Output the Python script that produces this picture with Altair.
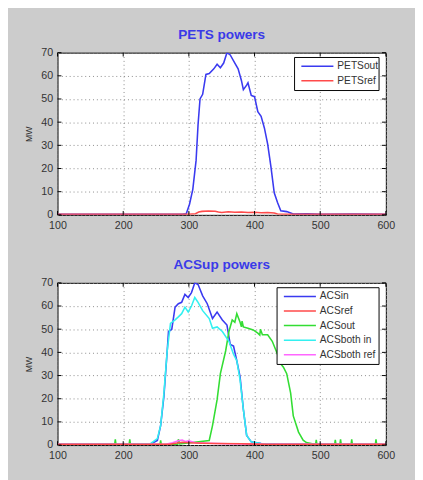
import altair as alt
import pandas as pd

# ---- PETS data ----
PETS_X = [100, 150, 200, 250, 290, 296, 301, 306, 311, 314, 317, 321, 326, 331, 338, 343, 348, 353, 358, 363,
          370, 375, 380, 383, 388, 390, 395, 400, 405, 410, 415, 420, 425, 430, 435, 440, 449, 459, 480, 500, 550, 600]
PETS_OUT = [0.2, 0.3, 0.2, 0.3, 0.3, 0.5, 4.6, 11, 23.5, 39, 50, 52, 60.6, 61, 63, 65, 63.5, 65.5, 70, 69,
            65.5, 63, 58, 54, 56, 57, 51.5, 51, 44.5, 42.5, 37.5, 30.5, 20.7, 9.5, 5.3, 1.8, 1.4, 0.4, 0.5, 0.3, 0.4, 0.2]
PETS_REF_X = [100, 200, 300, 310, 315, 320, 330, 340, 345, 350, 360, 370, 380, 390, 400, 410, 420, 430, 435, 450, 500, 600]
PETS_REF = [0.3, 0.3, 0.3, 0.5, 1.2, 1.5, 1.7, 1.6, 1.2, 1.0, 1.3, 1.1, 1.2, 1.0, 1.1, 0.9, 1.0, 0.8, 0.4, 0.3, 0.3, 0.3]

# ---- ACSup data ----
ACS_IN_X = [100, 200, 242, 252, 257, 262, 267, 269, 274, 279, 284, 289, 294, 299, 304, 309, 314, 321, 328, 336,
            343, 351, 358, 363, 368, 373, 378, 383, 388, 395, 410, 435, 500, 600]
ACS_IN = [0.3, 0.3, 0.5, 2, 8.4, 21, 40.6, 49, 50, 59.5, 61, 61.6, 65, 63.7, 65.8, 70, 69.3, 64.4, 61, 54.6,
          57.4, 54, 51.8, 43.4, 42.7, 36.4, 29.4, 15.4, 4.2, 1.4, 0.7, 0.3, 0.3, 0.2]
ACS_REF_X = [100, 270, 280, 290, 300, 320, 340, 380, 400, 420, 600]
ACS_REF = [0.3, 0.3, 0.8, 1.2, 1.0, 0.8, 0.7, 0.6, 0.4, 0.3, 0.3]
ACS_OUT_X = [100, 187, 188, 189, 209, 210, 211, 256, 257, 258, 283, 284, 286, 331, 336, 343, 348, 356, 361, 366,
             370, 373, 378, 380, 381, 383, 390, 398, 405, 408, 409, 412, 420, 427, 435, 440, 444, 449, 455, 459,
             467, 474, 479, 493, 494, 495, 522, 523, 524, 530, 531, 532, 547, 548, 549, 584, 585, 586, 600]
ACS_OUT = [0.2, 0.2, 2.5, 0.2, 0.2, 2.5, 0.2, 0.2, 2.0, 0.2, 0.3, 2.5, 0.5, 2, 8.4, 19.6, 30.8, 40.6, 49, 54,
           53, 56.7, 53, 51, 53.5, 51, 50.4, 49.7, 48.3, 47.5, 50, 47.6, 47.6, 44.8, 39.2, 35, 33.6, 30.8, 22.4, 12.6,
           5.6, 2.1, 1.1, 0.2, 2.2, 0.2, 0.2, 2.2, 0.2, 0.2, 2.5, 0.2, 0.2, 2.5, 0.2, 0.2, 2.5, 0.2, 0.2]
ACS_BIN_X = [100, 200, 242, 252, 257, 262, 267, 272, 279, 284, 289, 294, 299, 304, 309, 314, 321, 331, 336, 343,
             351, 361, 368, 373, 378, 383, 388, 395, 410, 435, 500, 600]
ACS_BIN = [0.3, 0.3, 0.7, 2.8, 8.4, 22.4, 40.6, 52.5, 54, 55.3, 56.7, 59.5, 57.4, 60, 63.7, 61.6, 58, 54.6, 50.4, 51,
           49, 44.8, 39.2, 36.4, 28, 15.4, 4.2, 1.4, 0.7, 0.3, 0.3, 0.2]
ACS_BREF_X = [100, 265, 275, 285, 290, 295, 300, 310, 330, 360, 400, 420, 600]
ACS_BREF = [0.3, 0.3, 1.0, 2.0, 2.2, 1.5, 1.8, 1.0, 0.8, 0.6, 0.4, 0.3, 0.3]

X_TICKS = [100, 200, 300, 400, 500, 600]
Y_TICKS = [0, 10, 20, 30, 40, 50, 60, 70]

PETS_NAMES = ["PETSout", "PETSref"]
PETS_COLORS = ["#3a3af0", "#ff4a4a"]
ACS_NAMES = ["ACSin", "ACSref", "ACSout", "ACSboth in", "ACSboth ref"]
ACS_COLORS = ["#3a3af0", "#ff4a4a", "#33dd33", "#33f0f0", "#ff66ff"]

FONT = "Liberation Sans"
W, H = 338, 167
TK = 4  # inward tick length
XSCALE = alt.Scale(domain=[100, 600], nice=False)
YSCALE = alt.Scale(domain=[0, 70], nice=False)
XAXIS = alt.Axis(values=X_TICKS, title=None, grid=True, ticks=False, labelPadding=5, labelFlush=False)
YAXIS = alt.Axis(values=Y_TICKS, title="MW", grid=True, ticks=False, labelPadding=5,
                 titlePadding=8, titleFontSize=9, titleFontWeight="normal")


def frame(xs, ys, name):
    return pd.DataFrame({"x": xs, "y": ys, "series": name})


def legend_layers(names, colors, box_w):
    # legend box in the top-right corner of the plot (styling, not data)
    x0 = W - 7 - box_w
    y0 = 5
    rows = len(names)
    box_h = rows * 15 + 4
    layers = [alt.Chart().mark_rect(fill="white", stroke="black", strokeWidth=1).encode(
        x=alt.value(x0), x2=alt.value(x0 + box_w), y=alt.value(y0), y2=alt.value(y0 + box_h))]
    for k, (n, c) in enumerate(zip(names, colors)):
        yy = y0 + 9 + 15 * k
        layers.append(alt.Chart().mark_rule(color=c, strokeWidth=1.5).encode(
            x=alt.value(x0 + 7), x2=alt.value(x0 + 40), y=alt.value(yy)))
        layers.append(alt.Chart().mark_text(align="left", baseline="middle", font=FONT, fontSize=10.5,
                                            color="#333333").encode(
            x=alt.value(x0 + 44), y=alt.value(yy), text=alt.value(n)))
    return layers


def tick_layers():
    xt = pd.DataFrame({"x": X_TICKS})
    yt = pd.DataFrame({"y": Y_TICKS})
    layers = []
    for a, b in ((0, TK), (H - TK, H)):
        layers.append(alt.Chart(xt).mark_rule(color="black", strokeWidth=1).encode(
            x=alt.X("x:Q", scale=XSCALE, axis=XAXIS), y=alt.value(a), y2=alt.value(b)))
    for a, b in ((0, TK), (W - TK, W)):
        layers.append(alt.Chart(yt).mark_rule(color="black", strokeWidth=1).encode(
            y=alt.Y("y:Q", scale=YSCALE, axis=YAXIS), x=alt.value(a), x2=alt.value(b)))
    return layers


def panel(series, names, colors, title, box_w):
    df = pd.concat([frame(xs, ys, n) for (n, xs, ys) in series], ignore_index=True)
    df["i"] = range(len(df))
    lines = alt.Chart(df).mark_line(strokeWidth=1.6, clip=True).encode(
        x=alt.X("x:Q", scale=XSCALE, axis=XAXIS),
        y=alt.Y("y:Q", scale=YSCALE, axis=YAXIS),
        color=alt.Color("series:N", scale=alt.Scale(domain=names, range=colors), legend=None),
        detail="series:N",
        order="i:Q",
    )
    return alt.layer(lines, *tick_layers(), *legend_layers(names, colors, box_w)).properties(
        width=W, height=H,
        title=alt.TitleParams(title, color="#3a3ae8", fontSize=14, fontWeight="bold", font=FONT, offset=5),
    )


top = panel(
    [("PETSout", PETS_X, PETS_OUT), ("PETSref", PETS_REF_X, PETS_REF)],
    PETS_NAMES, PETS_COLORS, "PETS powers", 87)
bottom = panel(
    [("ACSin", ACS_IN_X, ACS_IN), ("ACSout", ACS_OUT_X, ACS_OUT), ("ACSboth in", ACS_BIN_X, ACS_BIN),
     ("ACSboth ref", ACS_BREF_X, ACS_BREF), ("ACSref", ACS_REF_X, ACS_REF)],
    ACS_NAMES, ACS_COLORS, "ACSup powers", 105)

chart = alt.vconcat(top, bottom, spacing=27).resolve_scale(color="independent").properties(
    padding={"left": 16, "top": 13, "right": 20, "bottom": 12},
    background="#cccccc",
).configure_view(
    stroke="black", strokeWidth=1, fill="white",
).configure_axis(
    labelFont=FONT, labelFontSize=11, labelColor="#333333", titleFont=FONT, titleColor="#333333",
    gridColor="#888888", gridDash=[1, 3], gridOpacity=1, gridWidth=1, domain=False,
).configure_concat(spacing=27)

chart.save("out.html", embed_options={"renderer": "svg", "actions": False})
